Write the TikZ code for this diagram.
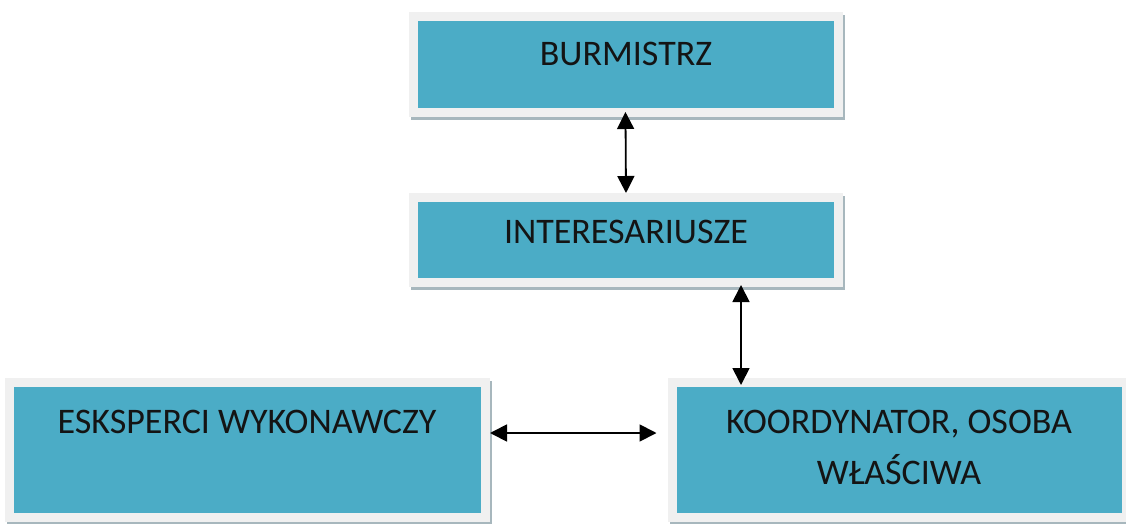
\documentclass[tikz,border=0pt]{standalone}
\usepackage{fontspec}
\setmainfont{Carlito}
\usetikzlibrary{arrows.meta}
\definecolor{boxteal}{HTML}{4BACC6}
\definecolor{framegrey}{HTML}{F0F0F0}
\definecolor{shadowc}{HTML}{A7B7BD}
\definecolor{txt}{HTML}{141414}
\tikzset{
  box/.style={rectangle, fill=boxteal, draw=framegrey, line width=9pt, inner sep=0pt,
    preaction={draw=shadowc, line width=9pt, transform canvas={shift={(2pt,-3pt)}}}},
  lbl/.style={font=\fontsize{36}{51}\selectfont, text=txt, inner sep=0pt, align=center, anchor=base},
  arr/.style={<->, >={Triangle[length=17pt,width=17pt]}, line width=1.8pt, black}
}
\begin{document}
\begin{tikzpicture}[x=1pt,y=-1pt]
\useasboundingbox (0,0) rectangle (1126,524);
\node[box, minimum width=425pt, minimum height=96pt] (b1) at (625.5,64.5) {};
\node[box, minimum width=425pt, minimum height=85pt] (b2) at (626,240) {};
\node[box, minimum width=476pt, minimum height=135pt] (b3) at (247.5,450) {};
\node[box, minimum width=454pt, minimum height=135pt] (b4) at (899,450) {};
\node[lbl] (t1) at (626,66) {BURMISTRZ};
\node[lbl] (t2) at (626,243) {INTERESARIUSZE};
\node[lbl] (t3) at (247,433) {ESKSPERCI WYKONAWCZY};
\node[lbl] (t4) at (899,484) {KOORDYNATOR, OSOBA\\WŁAŚCIWA};
\draw[arr, shorten <=-5pt] (b1.south) -- (b2.north);
\coordinate (c2) at (741,0);
\coordinate (c3) at (0,433);
\draw[arr, shorten <=-2pt, shorten >=-7pt] (b2.south -| c2) -- (b4.north -| c2);
\draw[arr, shorten >=11pt] (b3.east |- c3) -- (b4.west |- c3);
\end{tikzpicture}
\end{document}
